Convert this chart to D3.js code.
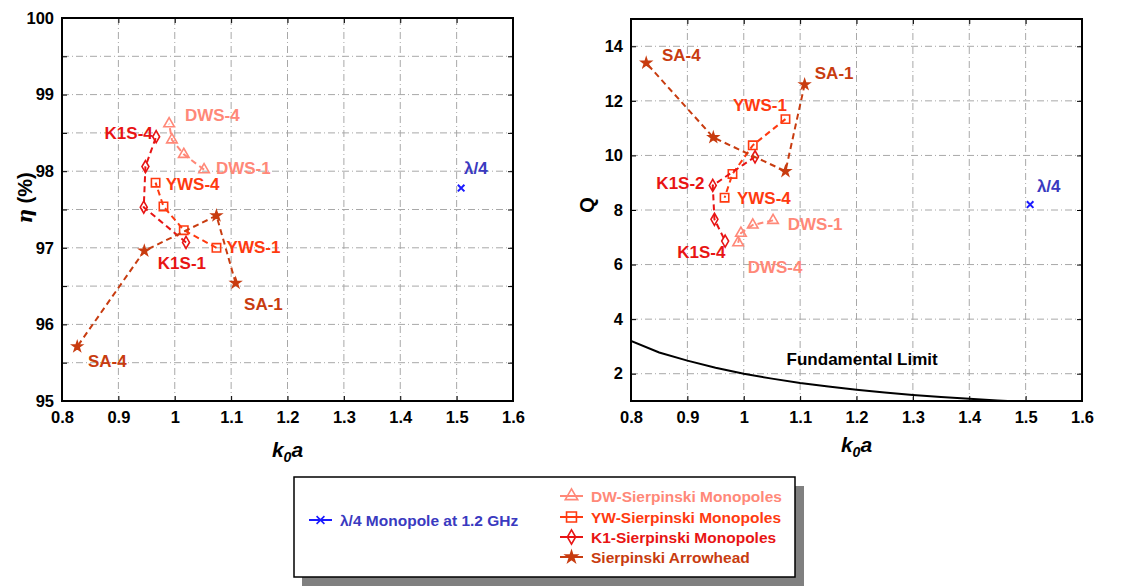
<!DOCTYPE html>
<html>
<head>
<meta charset="utf-8">
<script src="https://cdn.jsdelivr.net/npm/d3@7"></script>
<style>
  body { margin: 0; background: #fff; }
  svg { display: block; font-family: "Liberation Sans", Arial, sans-serif; }
</style>
</head>
<body>
<div id="chart"></div>
<script>
// generation 1..4 of each antenna family
const dwsK = [1.052, 1.016, 0.995, 0.99];
const dwsEta = [98.02, 98.22, 98.41, 98.62];
const dwsQ = [7.62, 7.45, 7.15, 6.8];

const ywsK = [1.074, 1.016, 0.98, 0.966];
const ywsEta = [97.0, 97.23, 97.54, 97.85];
const ywsQ = [11.33, 10.37, 9.32, 8.45];

const k1sK = [1.02, 0.945, 0.948, 0.967];
const k1sEta = [97.07, 97.53, 98.06, 98.45];
const k1sQ = [9.95, 8.9, 7.66, 6.86];

const saK = [1.108, 1.074, 0.946, 0.827];
const saEta = [96.54, 97.42, 96.96, 95.71];
const saQ = [12.6, 9.42, 10.66, 13.39];

const monoK = [1.508];
const monoEta = [97.78];
const monoQ = [8.2];

// fundamental limit
const limitK = [0.8, 0.85, 0.9, 0.95, 1.0, 1.05, 1.1, 1.15, 1.2, 1.25, 1.3, 1.35, 1.4, 1.45, 1.5];
const limitQ = [3.2, 2.78, 2.48, 2.22, 2.0, 1.82, 1.66, 1.53, 1.41, 1.31, 1.22, 1.15, 1.08, 1.02, 0.97];

const kTicks = [0.8, 0.9, 1.0, 1.1, 1.2, 1.3, 1.4, 1.5, 1.6];
const etaTicks = [95, 95.5, 96, 96.5, 97, 97.5, 98, 98.5, 99, 99.5, 100];
const qTicks = [2, 4, 6, 8, 10, 12, 14];

const legendRight = ['DW-Sierpinski Monopoles', 'YW-Sierpinski Monopoles', 'K1-Sierpinski Monopoles', 'Sierpinski Arrowhead'];
const legendLeft = 'λ/4 Monopole at 1.2 GHz';

const colors = { dws: '#ff8878', yws: '#ff3a10', k1s: '#e81414', sa: '#c83c10', mono: '#1a1aff', monoText: '#3a3ac0' };

const etaLabels = [
  ['DWS-4', 1.018, 98.73, 'dws'], ['K1S-4', 0.961, 98.5, 'k1s', 'end'], ['DWS-1', 1.073, 98.04, 'dws'],
  ['YWS-4', 0.984, 97.83, 'yws'], ['YWS-1', 1.092, 97.01, 'yws'], ['K1S-1', 0.97, 96.8, 'k1s'],
  ['SA-1', 1.123, 96.27, 'sa'], ['SA-4', 0.846, 95.53, 'sa'], ['λ/4', 1.513, 98.04, 'monoText']
];
const qLabels = [
  ['SA-4', 0.855, 13.69, 'sa'], ['SA-1', 1.126, 13.02, 'sa'], ['YWS-1', 0.981, 11.86, 'yws'],
  ['K1S-2', 0.845, 9.01, 'k1s'], ['YWS-4', 0.988, 8.45, 'yws'], ['λ/4', 1.52, 8.87, 'monoText'],
  ['DWS-1', 1.078, 7.5, 'dws'], ['K1S-4', 0.882, 6.46, 'k1s'], ['DWS-4', 1.007, 5.9, 'dws'],
  ['Fundamental Limit', 1.076, 2.53, 'black']
];

const W = 1142, H = 586;
const svg = d3.select('#chart').append('svg').attr('width', W).attr('height', H);

const symbols = {
  dws: { type: d3.symbolTriangle, size: 48, fill: 'none' },
  yws: { type: d3.symbolSquare, size: 70, fill: 'none' },
  k1s: { type: d3.symbolDiamond, size: 42, fill: 'none' },
  sa: { type: d3.symbolStar, size: 28, fill: 'sa' },
  mono: { type: d3.symbolTimes, size: 30, fill: 'none' }
};

function panel(opts) {
  const x = d3.scaleLinear().domain([0.8, 1.6]).range([opts.left, opts.right]);
  const y = d3.scaleLinear().domain(opts.yDomain).range([opts.bottom, opts.top]);
  const g = svg.append('g');
  const clipId = 'clip' + opts.id;
  g.append('clipPath').attr('id', clipId).append('rect')
    .attr('x', opts.left).attr('y', opts.top)
    .attr('width', opts.right - opts.left).attr('height', opts.bottom - opts.top);

  // grid
  g.append('g').selectAll('line').data(kTicks.slice(1, -1)).join('line')
    .attr('x1', d => x(d)).attr('x2', d => x(d))
    .attr('y1', opts.top).attr('y2', opts.bottom)
    .attr('stroke', '#a8a8a8').attr('stroke-dasharray', '7,3,1,3');
  g.append('g').selectAll('line').data(opts.yGrid).join('line')
    .attr('y1', d => y(d)).attr('y2', d => y(d))
    .attr('x1', opts.left).attr('x2', opts.right)
    .attr('stroke', '#a8a8a8').attr('stroke-dasharray', '7,3,1,3');

  // axes with inward ticks
  const fmt = d => d3.format('')(d);
  g.append('g').attr('transform', `translate(0,${opts.bottom})`)
    .call(d3.axisBottom(x).tickValues(kTicks).tickSize(-5).tickPadding(10).tickFormat(fmt))
    .call(a => a.select('.domain').remove());
  g.append('g').attr('transform', `translate(0,${opts.top})`)
    .call(d3.axisTop(x).tickValues(kTicks).tickSize(-5).tickFormat(''))
    .call(a => a.select('.domain').remove());
  g.append('g').attr('transform', `translate(${opts.left},0)`)
    .call(d3.axisLeft(y).tickValues(opts.yTicks).tickSize(-5).tickPadding(8).tickFormat(opts.yFormat))
    .call(a => a.select('.domain').remove());
  g.append('g').attr('transform', `translate(${opts.right},0)`)
    .call(d3.axisRight(y).tickValues(opts.yTicks).tickSize(-5).tickFormat(''))
    .call(a => a.select('.domain').remove());
  g.selectAll('.tick line').attr('stroke', '#000').attr('stroke-width', 1);
  g.selectAll('.tick text').attr('font-size', 16.5).attr('font-weight', 'bold')
    .attr('font-family', '"Liberation Sans", Arial, sans-serif').attr('fill', '#000');

  const plot = g.append('g').attr('clip-path', `url(#${clipId})`);
  const line = d3.line().x(d => x(d[0])).y(d => y(d[1]));

  if (opts.limit) {
    plot.append('path').datum(d3.zip(limitK, limitQ))
      .attr('d', line).attr('fill', 'none').attr('stroke', '#000').attr('stroke-width', 2);
  }

  opts.series.forEach(s => {
    const pts = d3.zip(s.k, s.v);
    const c = colors[s.key];
    if (pts.length > 1) {
      plot.append('path').datum(pts).attr('d', line)
        .attr('fill', 'none').attr('stroke', c).attr('stroke-width', 2)
        .attr('stroke-dasharray', '6,4');
    }
    const sym = symbols[s.key];
    plot.selectAll(null).data(pts).join('path')
      .attr('transform', d => `translate(${x(d[0])},${y(d[1])})`)
      .attr('d', d3.symbol().type(sym.type).size(sym.size))
      .attr('fill', sym.fill === 'none' ? 'none' : c)
      .attr('stroke', c).attr('stroke-width', s.key === 'mono' ? 2 : 1.6);
  });

  g.selectAll(null).data(opts.labels).join('text')
    .attr('x', d => x(d[1])).attr('y', d => y(d[2]))
    .attr('dy', '0.36em')
    .attr('text-anchor', d => d[4] || 'start')
    .attr('font-size', 17).attr('font-weight', 'bold')
    .attr('fill', d => d[3] === 'black' ? '#000' : colors[d[3]])
    .text(d => d[0]);

  // frame
  g.append('rect').attr('x', opts.left).attr('y', opts.top)
    .attr('width', opts.right - opts.left).attr('height', opts.bottom - opts.top)
    .attr('fill', 'none').attr('stroke', '#000').attr('stroke-width', 2);

  // x title k0a
  const xt = g.append('text').attr('x', (opts.left + opts.right) / 2).attr('y', opts.xTitleY)
    .attr('text-anchor', 'middle').attr('font-size', 21).attr('font-weight', 'bold')
    .attr('font-style', 'italic').attr('fill', '#000');
  xt.append('tspan').text('k');
  xt.append('tspan').attr('font-size', 14).attr('dy', 5).text('0');
  xt.append('tspan').attr('dy', -5).text('a');

  return g;
}

const left = panel({
  id: 'L', left: 62, right: 513, top: 18, bottom: 401,
  yDomain: [95, 100], yTicks: etaTicks, yGrid: etaTicks.slice(1, -1),
  yFormat: d => Number.isInteger(d) ? d : '',
  xTitleY: 457,
  series: [
    { key: 'dws', k: dwsK, v: dwsEta }, { key: 'yws', k: ywsK, v: ywsEta },
    { key: 'k1s', k: k1sK, v: k1sEta }, { key: 'sa', k: saK, v: saEta },
    { key: 'mono', k: monoK, v: monoEta }
  ],
  labels: etaLabels
});
const lt = left.append('text').attr('transform', 'translate(32,198) rotate(-90)')
  .attr('text-anchor', 'middle').attr('font-size', 20).attr('font-weight', 'bold').attr('fill', '#000');
lt.append('tspan').attr('font-style', 'italic').attr('font-family', '"DejaVu Serif", serif').text('η');
lt.append('tspan').text(' (%)');

const right = panel({
  id: 'R', left: 631, right: 1082, top: 19, bottom: 401,
  yDomain: [1, 15], yTicks: qTicks, yGrid: qTicks,
  yFormat: d => d,
  xTitleY: 452, limit: true,
  series: [
    { key: 'dws', k: dwsK, v: dwsQ }, { key: 'yws', k: ywsK, v: ywsQ },
    { key: 'k1s', k: k1sK, v: k1sQ }, { key: 'sa', k: saK, v: saQ },
    { key: 'mono', k: monoK, v: monoQ }
  ],
  labels: qLabels
});
right.append('text').attr('transform', 'translate(594,205) rotate(-90)')
  .attr('text-anchor', 'middle').attr('font-size', 20).attr('font-weight', 'bold')
  .attr('fill', '#000').text('Q');

// legend
const lg = svg.append('g');
lg.append('rect').attr('x', 302).attr('y', 486).attr('width', 502).attr('height', 100).attr('fill', '#808080');
lg.append('rect').attr('x', 294).attr('y', 477).attr('width', 501).attr('height', 100)
  .attr('fill', '#fff').attr('stroke', '#000').attr('stroke-width', 1.5);

function legendItem(x0, yc, key, textColor, label) {
  const c = colors[key];
  const sym = symbols[key];
  lg.append('line').attr('x1', x0).attr('x2', x0 + 23).attr('y1', yc).attr('y2', yc)
    .attr('stroke', c).attr('stroke-width', 2);
  lg.append('path').attr('transform', `translate(${x0 + 11.5},${yc})`)
    .attr('d', d3.symbol().type(sym.type).size(sym.size * 1.4))
    .attr('fill', sym.fill === 'none' ? 'none' : c).attr('stroke', c).attr('stroke-width', 1.6);
  lg.append('text').attr('x', x0 + 31).attr('y', yc).attr('dy', '0.36em')
    .attr('font-size', 15.5).attr('font-weight', 'bold').attr('fill', textColor).text(label);
}
legendItem(309, 520, 'mono', colors.monoText, legendLeft);
['dws', 'yws', 'k1s', 'sa'].forEach((key, i) => {
  legendItem(560, [496, 517, 537, 557][i], key, colors[key], legendRight[i]);
});
</script>
</body>
</html>
